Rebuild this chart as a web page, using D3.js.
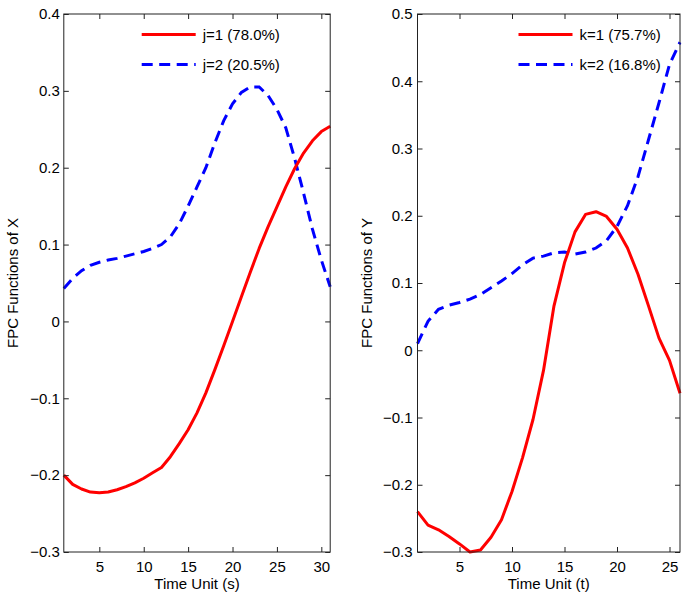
<!DOCTYPE html>
<html>
<head>
<meta charset="utf-8">
<script src="https://cdn.jsdelivr.net/npm/d3@7/dist/d3.min.js"></script>
<style>
  html, body { margin: 0; padding: 0; background: #fff; }
  svg text { font-family: "Liberation Sans", Arial, Helvetica, sans-serif; }
</style>
</head>
<body>
<svg id="chart" width="685" height="598"></svg>
<script>
// ---------- data ----------
const timeX = d3.range(1, 32);            // 1..31
const fpcX1 = [-0.200,-0.212,-0.218,-0.222,-0.223,-0.222,-0.219,-0.215,-0.210,-0.204,
               -0.197,-0.190,-0.176,-0.159,-0.141,-0.119,-0.093,-0.063,-0.032,0.000,
                0.032,0.064,0.095,0.123,0.149,0.175,0.199,0.219,0.235,0.247,0.254];
const fpcX2 = [0.043,0.056,0.066,0.073,0.077,0.080,0.082,0.085,0.088,0.091,
               0.095,0.100,0.110,0.127,0.150,0.175,0.200,0.232,0.261,0.283,
               0.298,0.305,0.305,0.294,0.276,0.252,0.212,0.167,0.120,0.080,0.045];
const timeY = d3.range(1, 27);            // 1..26
const fpcY1 = [-0.240,-0.260,-0.267,-0.277,-0.288,-0.300,-0.297,-0.278,-0.252,-0.210,
               -0.160,-0.103,-0.030,0.066,0.130,0.176,0.202,0.206,0.199,0.180,
                0.152,0.113,0.066,0.018,-0.015,-0.064];
const fpcY2 = [0.010,0.043,0.061,0.067,0.071,0.076,0.083,0.093,0.103,0.114,
               0.127,0.137,0.140,0.145,0.146,0.143,0.146,0.152,0.163,0.184,
               0.215,0.258,0.313,0.368,0.425,0.458];
const xTicksLeft = [5,10,15,20,25,30];
const xTicksRight = [5,10,15,20,25];
const yTicksLeft = [-0.3,-0.2,-0.1,0,0.1,0.2,0.3,0.4];
const yTicksRight = [-0.3,-0.2,-0.1,0,0.1,0.2,0.3,0.4,0.5];
const legendLeft = ["j=1 (78.0%)", "j=2 (20.5%)"];
const legendRight = ["k=1 (75.7%)", "k=2 (16.8%)"];
const xTitles = ["Time Unit (s)", "Time Unit (t)"];
const yTitles = ["FPC Functions of X", "FPC Functions of Y"];

// ---------- drawing ----------
const svg = d3.select("#chart");
const RED = "#ff0000", BLUE = "#0000ff", AXIS = "#222";
const FS = 15;
const fmt = d3.format(".1~f");

function panel(cfg) {
  const x = d3.scaleLinear().domain(cfg.xDomain).range([cfg.left, cfg.right]);
  const y = d3.scaleLinear().domain(cfg.yDomain).range([cfg.bottom, cfg.top]);
  const g = svg.append("g");

  // lines
  const line = d3.line().x(d => x(d[0])).y(d => y(d[1]));
  g.append("path").datum(cfg.t.map((t,i) => [t, cfg.s2[i]]))
    .attr("d", line).attr("fill","none").attr("stroke",BLUE)
    .attr("stroke-width",3).attr("stroke-dasharray","11,6.5");
  g.append("path").datum(cfg.t.map((t,i) => [t, cfg.s1[i]]))
    .attr("d", line).attr("fill","none").attr("stroke",RED)
    .attr("stroke-width",3).attr("stroke-linejoin","round");

  // axes
  const styleAxis = sel => {
    sel.select(".domain").remove();
    sel.selectAll("line").attr("stroke", AXIS);
    sel.selectAll("text").attr("font-size", FS).attr("fill","#000")
      .attr("font-family","Liberation Sans, Arial, sans-serif");
  };
  g.append("g").attr("transform",`translate(0,${cfg.bottom})`)
    .call(d3.axisBottom(x).tickValues(cfg.xTicks).tickSize(-5).tickPadding(9).tickFormat(d3.format("d")))
    .call(styleAxis);
  g.append("g").attr("transform",`translate(0,${cfg.top})`)
    .call(d3.axisTop(x).tickValues(cfg.xTicks).tickSize(-5).tickFormat(""))
    .call(styleAxis);
  g.append("g").attr("transform",`translate(${cfg.left},0)`)
    .call(d3.axisLeft(y).tickValues(cfg.yTicks).tickSize(-5).tickPadding(cfg.yPad).tickFormat(fmt))
    .call(styleAxis);
  g.append("g").attr("transform",`translate(${cfg.right},0)`)
    .call(d3.axisRight(y).tickValues(cfg.yTicks).tickSize(-5).tickFormat(""))
    .call(styleAxis);

  // box
  g.append("rect").attr("x",cfg.left).attr("y",cfg.top)
    .attr("width",cfg.right-cfg.left).attr("height",cfg.bottom-cfg.top)
    .attr("fill","none").attr("stroke",AXIS).attr("stroke-width",1);

  // titles
  g.append("text").attr("x",(cfg.left+cfg.right)/2).attr("y",589)
    .attr("text-anchor","middle").attr("font-size",FS).text(cfg.xTitle);
  g.append("text").attr("transform",`translate(${cfg.yTitleX},${(cfg.top+cfg.bottom)/2}) rotate(-90)`)
    .attr("text-anchor","middle").attr("font-size",FS).text(cfg.yTitle);

  // legend
  const lg = g.append("g");
  const rows = [{c:RED, dash:null, label:cfg.legend[0], y:34.5},
                {c:BLUE, dash:"11,6.5", label:cfg.legend[1], y:64.5}];
  rows.forEach(r => {
    lg.append("line").attr("x1",cfg.legX).attr("x2",cfg.legX+54)
      .attr("y1",r.y).attr("y2",r.y).attr("stroke",r.c).attr("stroke-width",3)
      .attr("stroke-dasharray",r.dash);
    lg.append("text").attr("x",cfg.legX+61).attr("y",r.y+5.5)
      .attr("font-size",FS).text(r.label);
  });
}

panel({left:63.8, right:330.2, top:14, bottom:552, xDomain:[1,31], yDomain:[-0.3,0.4],
       t:timeX, s1:fpcX1, s2:fpcX2, xTicks:xTicksLeft, yTicks:yTicksLeft, yPad:4,
       xTitle:xTitles[0], yTitle:yTitles[0], yTitleX:18, legend:legendLeft, legX:141.7});
panel({left:417.5, right:680, top:14, bottom:552, xDomain:[1,26], yDomain:[-0.3,0.5],
       t:timeY, s1:fpcY1, s2:fpcY2, xTicks:xTicksRight, yTicks:yTicksRight, yPad:5,
       xTitle:xTitles[1], yTitle:yTitles[1], yTitleX:372, legend:legendRight, legX:518.5});
</script>
</body>
</html>
